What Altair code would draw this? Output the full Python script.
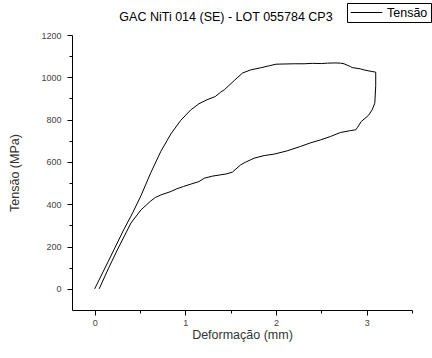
import altair as alt
import pandas as pd

# Loading curve (upper branch), then unloading (lower branch)
deform = [
    0.00, 0.15, 0.32, 0.42, 0.51, 0.62, 0.73, 0.84, 0.95, 1.06, 1.15, 1.24, 1.33,
    1.39, 1.43, 1.54, 1.63, 1.72, 1.83, 1.93, 2.00, 2.10, 2.20, 2.31, 2.40, 2.50, 2.57,
    2.65, 2.71, 2.75, 2.82, 2.84, 2.93, 2.97, 3.05, 3.08, 3.10,
    3.10, 3.09, 3.06, 3.02, 2.94, 2.90, 2.88, 2.82, 2.71, 2.60, 2.49, 2.38, 2.27, 2.12,
    1.98, 1.87, 1.76, 1.72, 1.66, 1.61, 1.52, 1.45, 1.39, 1.30, 1.21, 1.15, 1.06, 0.98,
    0.90, 0.84, 0.73, 0.67, 0.62, 0.51, 0.40, 0.25, 0.15, 0.05,
]
tensao = [
    0, 130, 279, 360, 440, 550, 650, 732, 797, 846, 875, 894, 909,
    930, 941, 985, 1020, 1035, 1045, 1055, 1062, 1063, 1064, 1064, 1066, 1065, 1067,
    1068, 1067, 1064, 1051, 1046, 1040, 1035, 1028, 1026, 1024,
    960, 878, 846, 820, 791, 764, 752, 748, 739, 720, 704, 690, 673, 652,
    637, 630, 618, 610, 598, 586, 552, 543, 539, 533, 523, 507, 495, 484,
    472, 460, 444, 432, 416, 373, 311, 184, 95, 0,
]

x_ticks = [0, 0.5, 1, 1.5, 2, 2.5, 3, 3.5]
y_ticks = list(range(0, 1201, 100))

df = pd.DataFrame({
    "Deformação": deform,
    "Tensão": tensao,
    "idx": list(range(len(deform))),
    "serie": ["Tensão"] * len(deform),
})

FONT = "Liberation Sans"

chart = (
    alt.Chart(df)
    .mark_line(strokeWidth=1, interpolate="linear")
    .encode(
        x=alt.X(
            "Deformação:Q",
            scale=alt.Scale(domain=[-0.25, 3.5], nice=False, zero=False),
            axis=alt.Axis(
                title="Deformação (mm)",
                values=x_ticks,
                format="~g",
                labelExpr="datum.value % 1 === 0 ? datum.label : ''",
                tickSize={"condition": {"test": "datum.value % 1 === 0", "value": 5}, "value": 3},
                grid=False,
                labelPadding=3,
                titlePadding=1,
            ),
        ),
        y=alt.Y(
            "Tensão:Q",
            scale=alt.Scale(domain=[-100, 1200], nice=False, zero=False),
            axis=alt.Axis(
                title="Tensão (MPa)",
                values=y_ticks,
                format="d",
                labelExpr="datum.value % 200 === 0 ? datum.label : ''",
                tickSize={"condition": {"test": "datum.value % 200 === 0", "value": 5}, "value": 3},
                grid=False,
                labelPadding=6,
                titlePadding=19,
            ),
        ),
        order="idx:Q",
        color=alt.Color(
            "serie:N",
            scale=alt.Scale(range=["black"]),
            legend=alt.Legend(
                title=None,
                orient="none",
                legendX=275,
                legendY=-32,
                symbolType="stroke",
                symbolSize=1000,
                symbolStrokeWidth=1,
                strokeColor="black",
                fillColor="white",
                padding=3,
                clipHeight=13,
                labelFontSize=12.5,
                labelFont=FONT,
                labelColor="black",
                labelOffset=4,
            ),
        ),
    )
    .properties(
        width=340,
        height=275,
        autosize=alt.AutoSizeParams(type="none"),
        padding={"left": 72, "top": 35, "right": 20, "bottom": 48},
        title=alt.TitleParams(
            "GAC NiTi 014 (SE) - LOT 055784 CP3",
            font=FONT,
            fontSize=12.5,
            fontWeight="normal",
            color="black",
            anchor="middle",
            frame="group",
            baseline="alphabetic",
            dx=-16,
            dy=15,
            offset=-16,
        ),
    )
    .configure_view(stroke=None)
    .configure_axis(
        domainColor="black",
        tickColor="black",
        labelFont=FONT,
        labelFontSize=9,
        labelColor="#444444",
        titleFont=FONT,
        titleFontSize=12.5,
        titleFontWeight="normal",
        titleColor="#333333",
    )
)

chart.save("out.html", embed_options={"renderer": "svg", "actions": False})
